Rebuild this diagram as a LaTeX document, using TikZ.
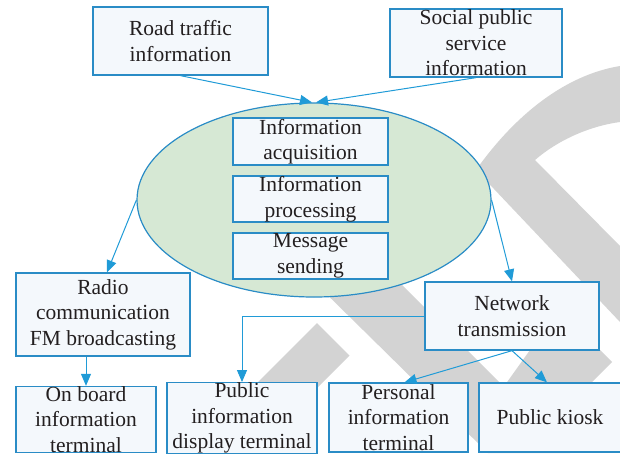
\documentclass[tikz,border=0pt]{standalone}
\usepackage{fontspec}
\setmainfont{Liberation Serif}
\usetikzlibrary{arrows.meta,shapes.geometric}
\definecolor{boxline}{RGB}{42,140,198}
\definecolor{wire}{RGB}{32,155,215}
\definecolor{boxfill}{RGB}{244,248,252}
\definecolor{ellfill}{RGB}{214,232,212}
\definecolor{ink}{RGB}{35,31,32}
\definecolor{wmgray}{RGB}{211,211,211}
\begin{document}
\begin{tikzpicture}[x=1pt,y=-1pt,
    box/.style={draw=boxline,line width=1.3pt,fill=boxfill,inner sep=0pt,align=center,
                text=ink,font=\fontsize{21.5}{25.5}\selectfont},
    link/.style={draw=wire,line width=1pt,-{Triangle[length=12pt,width=10pt]}},
    wmband/.style={fill=wmgray}]
    \useasboundingbox (0,0) rectangle (620,453);
    % grey bands in the background
    \fill[wmband] (476,170) .. controls (515,115) and (565,75) .. (620,66) -- (620,122)
        .. controls (590,126) and (558,140) .. (535,160) -- (620,246) -- (620,322) -- cycle;
    \fill[wmband] (300,268) -- (385,268) -- (570,453) -- (488,453) -- cycle;
    \fill[wmband] (317,323) -- (349.5,355.5) -- (252,453) -- (187,453) -- cycle;
    \fill[wmband] (530,350) -- (600,350) -- (612,362) -- (540,434) -- (470,434) -- cycle;
    % sources
    \node[box,minimum width=175pt,minimum height=68pt] (road) at (180.5,41) {Road traffic\\information};
    \node[box,minimum width=172pt,minimum height=68pt] (social) at (476,43) {Social public\\service\\information};
    % processing centre
    \node[ellipse,draw=boxline,fill=ellfill,line width=1.2pt,inner sep=0pt,
          minimum width=354pt,minimum height=194pt] (proc) at (314,200) {};
    \node[box,minimum width=155pt,minimum height=47pt] (acq) at (310.5,141.5) {Information\\acquisition};
    \node[box,minimum width=155pt,minimum height=46pt] (prc) at (310.5,199) {Information\\processing};
    \node[box,minimum width=155pt,minimum height=46pt] (snd) at (310.5,256) {Message\\sending};
    % channels
    \node[box,minimum width=174pt,minimum height=83pt] (radio) at (103,314.5) {Radio\\communication\\FM broadcasting};
    \node[box,minimum width=174pt,minimum height=68pt] (net) at (512,316) {Network\\transmission};
    % terminals
    \node[box,minimum width=140pt,minimum height=65pt] (board) at (86,419.5) {On board\\information\\terminal};
    \node[box,minimum width=150pt,minimum height=68pt] (disp) at (242,418) {Public\\information\\display terminal};
    \node[box,minimum width=139pt,minimum height=69pt] (pers) at (398.5,417.5) {Personal\\information\\terminal};
    \node[box,minimum width=142pt,minimum height=69pt] (kiosk) at (550,417.5) {Public kiosk};
    % arrows
    \draw[link] (road.south) -- ([xshift=-2pt]proc.north);
    \draw[link] (social.south) -- ([xshift=2pt]proc.north);
    \draw[link] (proc.west) -- ([xshift=4pt]radio.north);
    \draw[link] (proc.east) -- (net.north);
    \draw[link] (radio.south -| board.north) -- (board.north);
    \draw[link] (net.west) -| (disp.north);
    \draw[link] (net.south) -- ([xshift=6pt]pers.north);
    \draw[link] (net.south) -- ([xshift=-3pt]kiosk.north);
\end{tikzpicture}
\end{document}
